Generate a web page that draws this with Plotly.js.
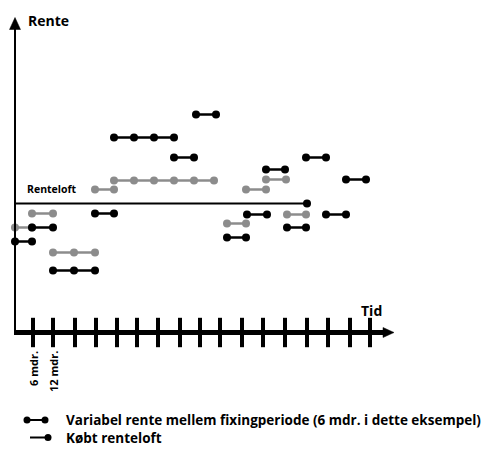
<!DOCTYPE html>
<html>
<head>
<meta charset="utf-8">
<script src="https://cdn.plot.ly/plotly-3.0.1.min.js"></script>
<style>html,body{margin:0;padding:0;background:#fff;}#chart{width:495px;height:453px;}</style>
</head>
<body>
<div id="chart"></div>
<script>
// ---- Data (time in fixing periods, rate in arbitrary % units) ----
const grayColor = '#8c8c8c';
const blackColor = '#000000';

// Grey fixing segments: x positions and level
const graySegX = [
  [0.05, 0.9], [0.9, 1.95], [1.95, 3.0, 4.05], [4.05, 5.0],
  [5.0, 6.0, 7.0, 8.0, 9.0, 10.0], [10.65, 11.6], [11.6, 12.6],
  [12.6, 13.6], [13.65, 14.6]
];
const graySegY = [5.25, 5.95, 4.0, 7.15, 7.6, 5.45, 7.15, 7.65, 5.9];

// Black fixing segments
const blackSegX = [
  [0.05, 0.9], [0.9, 1.95], [1.95, 3.0, 4.05], [4.05, 5.0],
  [5.0, 6.0, 7.0, 8.0], [8.0, 9.0], [9.1, 10.1], [10.65, 11.6],
  [11.65, 12.65], [12.6, 13.55], [13.65, 14.6], [14.6, 15.6],
  [15.6, 16.6], [16.6, 17.6]
];
const blackSegY = [4.55, 5.25, 3.1, 5.95, 9.75, 8.75, 10.9, 4.75,
                   5.9, 8.15, 5.25, 8.75, 5.9, 7.65];

// Purchased cap (renteloft)
const capX = [0.05, 14.65];
const capY = [6.45, 6.45];

// Time axis ticks (every 6 months)
const tickX = [0.95, 1.95, 3.05, 4.1, 5.15, 6.15, 7.2, 8.3, 9.3, 10.3,
               11.4, 12.45, 13.55, 14.65, 15.7, 16.8, 17.8];
const tickLabels = ['6 mdr.', '12 mdr.'];

// Legend texts
const legendTexts = ['Variabel rente mellem fixingperiode (6 mdr. i dette eksempel)', 'Købt renteloft'];

// ---- Build traces ----
function segTrace(segX, segY, color) {
  const x = [], y = [];
  segX.forEach((xs, i) => {
    xs.forEach(v => { x.push(v); y.push(segY[i]); });
    x.push(null); y.push(null);
  });
  return {
    type: 'scatter', mode: 'lines+markers', x: x, y: y,
    line: {color: color, width: 2.5},
    marker: {color: color, size: 8},
    hoverinfo: 'skip', showlegend: false, connectgaps: false
  };
}

const FONT = '"Open Sans", "Noto Sans", sans-serif';
const LEG_Y1 = -4.375, LEG_Y2 = -5.25;

const traces = [
  segTrace(graySegX, graySegY, grayColor),
  segTrace(blackSegX, blackSegY, blackColor),
  {
    type: 'scatter', mode: 'lines', x: capX, y: capY,
    line: {color: blackColor, width: 2}, hoverinfo: 'skip', showlegend: false
  },
  {
    type: 'scatter', mode: 'markers', x: [capX[1]], y: [capY[1]],
    marker: {color: blackColor, size: 8}, hoverinfo: 'skip', showlegend: false
  },
  {
    type: 'scatter', mode: 'markers', x: tickX, y: tickX.map(() => 0),
    marker: {symbol: 'line-ns', size: 21, line: {color: blackColor, width: 4}},
    hoverinfo: 'skip', showlegend: false
  },
  // legend samples
  {
    type: 'scatter', mode: 'lines+markers', x: [0.65, 1.55], y: [LEG_Y1, LEG_Y1],
    line: {color: blackColor, width: 2}, marker: {color: blackColor, size: 7},
    hoverinfo: 'skip', showlegend: false
  },
  {
    type: 'scatter', mode: 'lines', x: [0.8, 1.7], y: [LEG_Y2, LEG_Y2],
    line: {color: blackColor, width: 2}, hoverinfo: 'skip', showlegend: false
  },
  {
    type: 'scatter', mode: 'markers', x: [1.7], y: [LEG_Y2],
    marker: {color: blackColor, size: 7}, hoverinfo: 'skip', showlegend: false
  }
];

const annotations = [
  {x: 0.6, y: 15.6, xref: 'x', yref: 'y', text: '<b>Rente</b>', showarrow: false,
   xanchor: 'left', yanchor: 'middle', font: {family: FONT, size: 14, color: '#000'}},
  {x: 17.25, y: 1.1, xref: 'x', yref: 'y', text: '<b>Tid</b>', showarrow: false,
   xanchor: 'left', yanchor: 'middle', font: {family: FONT, size: 14, color: '#000'}},
  {x: 0.55, y: 7.18, xref: 'x', yref: 'y', text: '<b>Renteloft</b>', showarrow: false,
   xanchor: 'left', yanchor: 'middle', font: {family: FONT, size: 10.5, color: '#000'}},
  {x: 2.55, y: (LEG_Y1 + LEG_Y2) / 2, xref: 'x', yref: 'y',
   text: '<b>' + legendTexts[0] + '</b><br><b>' + legendTexts[1] + '</b>', showarrow: false,
   xanchor: 'left', yanchor: 'middle', align: 'left', borderpad: 0,
   font: {family: FONT, size: 13.5, color: '#000'}}
];
tickLabels.forEach((t, i) => {
  annotations.push({x: tickX[i], y: -0.85, xref: 'x', yref: 'y', text: '<b>' + t + '</b>',
    showarrow: false, textangle: -90, xanchor: 'center', yanchor: 'top',
    font: {family: FONT, size: 11, color: '#000'}});
});

const shapes = [
  // y axis
  {type: 'line', xref: 'x', yref: 'y', x0: 0.05, x1: 0.05, y0: -0.05, y1: 15.2,
   line: {color: '#000', width: 2}},
  {type: 'path', xref: 'x', yref: 'y', path: 'M -0.225,15.15 L 0.05,15.75 L 0.325,15.15 Z',
   fillcolor: '#000', line: {color: '#000', width: 0.5}},
  // x axis
  {type: 'line', xref: 'x', yref: 'y', x0: 0.0, x1: 18.5, y0: 0, y1: 0,
   line: {color: '#000', width: 5}},
  {type: 'path', xref: 'x', yref: 'y', path: 'M 18.45,-0.25 L 19.0,0 L 18.45,0.25 Z',
   fillcolor: '#000', line: {color: '#000', width: 0.5}}
];

const layout = {
  width: 495, height: 453,
  margin: {l: 0, r: 0, t: 0, b: 0, pad: 0},
  paper_bgcolor: '#fff', plot_bgcolor: '#fff',
  xaxis: {visible: false, range: [-0.7, 24.05], fixedrange: true},
  yaxis: {visible: false, range: [-6.025, 16.625], fixedrange: true},
  showlegend: false,
  annotations: annotations,
  shapes: shapes
};

Plotly.newPlot('chart', traces, layout, {displayModeBar: false, staticPlot: true});
</script>
</body>
</html>
